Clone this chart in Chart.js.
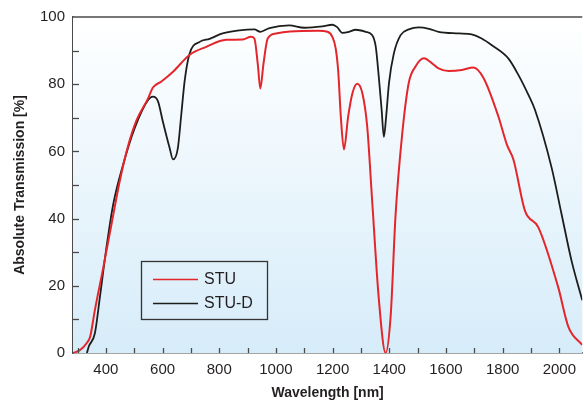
<!DOCTYPE html>
<html>
<head>
<meta charset="utf-8">
<script src="https://cdn.jsdelivr.net/npm/chart.js@4.4.1/dist/chart.umd.min.js"></script>
<style>
  html, body { margin: 0; padding: 0; background: #ffffff; }
  #wrap { width: 584px; height: 402px; }
</style>
</head>
<body>
<div id="wrap"><canvas id="c" width="584" height="402"></canvas></div>
<script>
// ---- data ----
const stuWavelength = [284, 309, 332, 345, 361, 391, 420, 449, 478, 508, 549, 566, 596, 637, 695, 754, 824, 883, 912, 924, 936, 945, 956, 971, 1000, 1050, 1150, 1182, 1199, 1211, 1220, 1229, 1240, 1255, 1270, 1287, 1305, 1322, 1340, 1363, 1387, 1405, 1422, 1446, 1469, 1492, 1522, 1551, 1574, 1610, 1656, 1697, 1733, 1785, 1815, 1838, 1879, 1926, 1996, 2032, 2081];
const stuTransmission = [0, 0.9, 2.9, 5, 12.7, 25.5, 38.4, 51.2, 61.5, 69.2, 75.8, 79, 80.8, 83.7, 88.7, 91.1, 93.2, 93.3, 94.1, 93.6, 86, 78.7, 86, 93.6, 95.1, 95.7, 95.9, 95.6, 94.1, 90.6, 83.7, 70.4, 60.6, 70.4, 77.3, 80.1, 77.3, 67.5, 44.8, 16.2, 0, 11.2, 40.8, 65.5, 80.5, 85.2, 87.7, 86.2, 84.7, 83.9, 84.2, 85, 81.8, 70.4, 62, 57.6, 42.3, 37.4, 19.6, 7.8, 2.4];

const studWavelength = [333, 340, 361, 379, 402, 426, 461, 502, 549, 566, 584, 601, 625, 637, 654, 666, 678, 695, 731, 766, 812, 871, 924, 945, 977, 1047, 1100, 1164, 1199, 1216, 1234, 1258, 1281, 1317, 1340, 1352, 1363, 1373, 1381, 1389, 1399, 1416, 1440, 1469, 1504, 1540, 1574, 1645, 1691, 1726, 1762, 1820, 1856, 1891, 1914, 1973, 2008, 2043, 2081];
const studTransmission = [0, 2, 5.8, 16.7, 31.4, 44.3, 56.1, 67, 75.3, 76.3, 74.9, 68.9, 61, 57.6, 61, 70.9, 81, 89, 92.6, 93.5, 95.1, 96, 96.3, 95.6, 96.7, 97.5, 96.8, 97.2, 97.7, 97, 95.3, 95.6, 96.2, 95.6, 94.6, 91.3, 82.2, 72.4, 64.3, 70.4, 80.3, 89.1, 94.6, 96.3, 96.9, 96.5, 95.6, 95.1, 94.8, 93.6, 91.6, 87.7, 82.7, 76.8, 72.4, 55.1, 41.3, 27.5, 15.7];

const seriesNames = ['STU', 'STU-D'];
const xTickMarks = [300, 400, 500, 600, 700, 800, 900, 1000, 1100, 1200, 1300, 1400, 1500, 1600, 1700, 1800, 1900, 2000];
const xTickLabels = [400, 600, 800, 1000, 1200, 1400, 1600, 1800, 2000];
const yTickMarks = [0, 10, 20, 30, 40, 50, 60, 70, 80, 90, 100];
const yTickLabels = [0, 20, 40, 60, 80, 100];

const xTitle = 'Wavelength [nm]';
const yTitle = 'Absolute Transmission [%]';

// ---- styling ----
const RED = '#e3262b';
const BLACK = '#1d1d1b';
const TEXT = '#231f20';
const AXIS = '#4a4a4a';
const FONT = "'Liberation Sans', Arial, Helvetica, sans-serif";

function toPoints(xs, ys) { return xs.map((x, i) => ({ x: x, y: ys[i] })); }

const bgPlugin = {
  id: 'bgPlugin',
  beforeDatasetsDraw(chart) {
    const { ctx, chartArea: a } = chart;
    const g = ctx.createLinearGradient(0, a.top, 0, a.bottom);
    g.addColorStop(0, '#ffffff');
    g.addColorStop(1, '#d6ecf9');
    ctx.save();
    ctx.fillStyle = g;
    ctx.fillRect(a.left, a.top, a.right - a.left, a.bottom - a.top);
    ctx.restore();
  }
};

const frameTicksPlugin = {
  id: 'frameTicks',
  afterDatasetsDraw(chart) {
    const { ctx, chartArea: a, scales } = chart;
    ctx.save();
    ctx.strokeStyle = AXIS;
    ctx.lineWidth = 1.3;
    // inward tick marks
    scales.y.ticks.forEach(t => {
      if (t.value <= 0 || t.value >= 100) return;
      const py = Math.round(scales.y.getPixelForValue(t.value)) + 0.5;
      ctx.beginPath(); ctx.moveTo(a.left, py); ctx.lineTo(a.left + 6, py); ctx.stroke();
    });
    scales.x.ticks.forEach(t => {
      const px = Math.round(scales.x.getPixelForValue(t.value)) + 0.5;
      ctx.beginPath(); ctx.moveTo(px, a.bottom); ctx.lineTo(px, a.bottom - 5); ctx.stroke();
    });
    // top frame line
    ctx.lineWidth = 1.5;
    ctx.beginPath(); ctx.moveTo(a.left, a.top); ctx.lineTo(a.right, a.top); ctx.stroke();
    ctx.restore();
  }
};

const boxLegendPlugin = {
  id: 'boxLegend',
  afterDatasetsDraw(chart) {
    const { ctx } = chart;
    const bx = 141, by = 261, bw = 126, bh = 58;
    ctx.save();
    ctx.strokeStyle = '#333333';
    ctx.lineWidth = 1.3;
    ctx.strokeRect(bx + 0.5, by + 0.5, bw, bh);
    ctx.font = '16px ' + FONT;
    ctx.textBaseline = 'middle';
    ctx.fillStyle = TEXT;
    chart.data.datasets.forEach((ds, i) => {
      const y = 279 + i * 24;
      ctx.strokeStyle = ds.borderColor;
      ctx.lineWidth = i === 0 ? 1.6 : 1.5;
      ctx.beginPath(); ctx.moveTo(153, y + 0.5); ctx.lineTo(198, y + 0.5); ctx.stroke();
      ctx.fillText(ds.label, 204, y + 1);
    });
    ctx.restore();
  }
};

new Chart(document.getElementById('c'), {
  type: 'line',
  data: {
    datasets: [
      { label: seriesNames[0], data: toPoints(stuWavelength, stuTransmission), borderColor: RED, borderWidth: 2, pointRadius: 0, cubicInterpolationMode: 'monotone', fill: false },
      { label: seriesNames[1], data: toPoints(studWavelength, studTransmission), borderColor: BLACK, borderWidth: 1.8, pointRadius: 0, cubicInterpolationMode: 'monotone', fill: false }
    ]
  },
  options: {
    responsive: false,
    animation: false,
    events: [],
    layout: { padding: { top: 15, right: 0, left: 0, bottom: 0 } },
    plugins: { legend: { display: false }, tooltip: { enabled: false } },
    scales: {
      x: {
        type: 'linear',
        min: 284, max: 2081,
        grid: { display: false, drawTicks: false },
        border: { display: true, color: AXIS, width: 1.5 },
        afterBuildTicks: s => { s.ticks = xTickMarks.map(v => ({ value: v })); },
        ticks: {
          autoSkip: false, maxRotation: 0, minRotation: 0,
          color: TEXT, font: { family: FONT, size: 15 }, padding: 8,
          callback: v => xTickLabels.includes(v) ? String(v) : ''
        },
        title: { display: true, text: xTitle, color: TEXT, font: { family: FONT, size: 14, weight: 'bold' }, padding: { top: 2, bottom: 0 } },
        afterFit: s => { s.height = 49; }
      },
      y: {
        type: 'linear',
        min: 0, max: 100,
        grid: { display: false, drawTicks: false },
        border: { display: true, color: AXIS, width: 1.5 },
        afterBuildTicks: s => { s.ticks = yTickMarks.map(v => ({ value: v })); },
        ticks: {
          autoSkip: false,
          color: TEXT, font: { family: FONT, size: 15 }, padding: 8,
          callback: v => yTickLabels.includes(v) ? String(v) : ''
        },
        title: { display: true, text: yTitle, color: TEXT, font: { family: FONT, size: 14, weight: 'bold' }, padding: { top: 12, bottom: 0 } },
        afterFit: s => { s.width = 73; }
      }
    }
  },
  plugins: [bgPlugin, frameTicksPlugin, boxLegendPlugin]
});
</script>
</body>
</html>
